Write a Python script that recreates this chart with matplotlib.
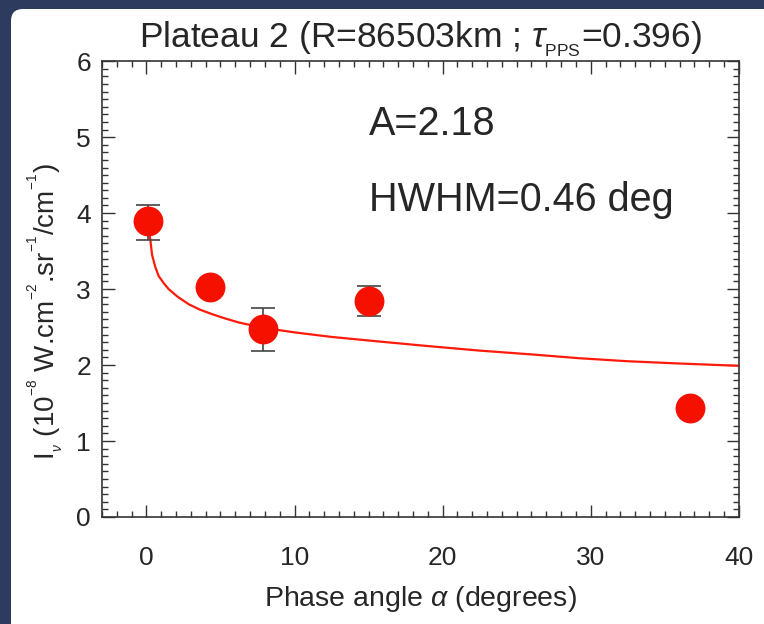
import numpy as np
import matplotlib
matplotlib.use("Agg")
import matplotlib.pyplot as plt
from matplotlib.patches import FancyBboxPatch
from matplotlib.ticker import MultipleLocator

plt.rcParams['font.family'] = ['Liberation Sans', 'DejaVu Sans']
plt.rcParams['mathtext.fontset'] = 'custom'
plt.rcParams['mathtext.rm'] = 'Liberation Sans'
plt.rcParams['mathtext.it'] = 'Liberation Sans:italic'

# measured intensities versus phase angle
phase = [0.1, 4.26, 7.9, 15.0, 36.7]
intensity = [3.89, 3.03, 2.47, 2.84, 1.44]
err_lo = [0.24, 0.0, 0.29, 0.20, 0.0]
err_hi = [0.21, 0.0, 0.28, 0.20, 0.0]
has_err = [True, False, True, True, False]

# fitted phase curve
fit_phase = [0.1, 0.27, 0.38, 0.6, 0.83, 1.2, 1.5, 2.1, 2.86, 3.6, 4.43, 5.2,
             6.24, 7.9, 10.0, 12.5, 15.7, 19.0, 22.5, 26.0, 29.2, 32.5, 36.0, 40.0]
fit_int = [3.86, 3.64, 3.45, 3.29, 3.17, 3.07, 3.00, 2.90, 2.80, 2.73, 2.67, 2.62,
           2.56, 2.49, 2.43, 2.37, 2.31, 2.25, 2.19, 2.14, 2.09, 2.05, 2.02, 1.99]

amp_text = "A=2.18"
hwhm_text = "HWHM=0.46 deg"

text_col = '#262626'
axis_col = '#333333'

fig = plt.figure(figsize=(7.64, 6.24), dpi=100)
fig.patch.set_facecolor('#2d3b5e')
panel = FancyBboxPatch((11, -30), 800, 624 - 9 + 30, boxstyle="round,pad=0,rounding_size=12",
                       transform=None, facecolor='white', edgecolor='none', zorder=0)
fig.add_artist(panel)

ax = fig.add_axes([0.1335, 0.1715, 0.8335, 0.7305])
ax.set_facecolor('white')

ax.plot(fit_phase, fit_int, color='#ff1a0a', lw=1.6, zorder=2)

ex = [p for p, e in zip(phase, has_err) if e]
ey = [v for v, e in zip(intensity, has_err) if e]
elo = [v for v, e in zip(err_lo, has_err) if e]
ehi = [v for v, e in zip(err_hi, has_err) if e]
ax.errorbar(ex, ey, yerr=[elo, ehi], fmt='none', ecolor='#444444', elinewidth=1.2,
            capsize=8.5, capthick=1.2, zorder=3)
ax.plot(phase, intensity, 'o', color='#f51000', ms=21.5, mec='none', zorder=4)

ax.text(15, 5.17, amp_text, fontsize=28.5, color=text_col, va='center', ha='left')
ax.text(15, 4.17, hwhm_text, fontsize=28.5, color=text_col, va='center', ha='left')

ax.set_xlim(-3, 40)
ax.set_ylim(0, 6)
ax.xaxis.set_major_locator(MultipleLocator(10))
ax.xaxis.set_minor_locator(MultipleLocator(1))
ax.yaxis.set_major_locator(MultipleLocator(1))
ax.yaxis.set_minor_locator(MultipleLocator(0.1))
ax.tick_params(which='both', direction='in', top=True, right=True, color=axis_col, width=1.0,
               labelcolor=text_col, labelsize=19)
ax.tick_params(which='major', length=9)
ax.tick_params(which='minor', length=4)
ax.tick_params(axis='x', which='major', pad=21)
ax.tick_params(axis='y', which='major', pad=8)
for s in ax.spines.values():
    s.set_color(axis_col)
    s.set_linewidth(1.2)

ax.set_title(r'Plateau 2 (R=86503km ; $\tau_{_{\rm PPS}}$=0.396)', fontsize=25.5, color=text_col, pad=10)
ax.set_xlabel(r'Phase angle $\alpha$ (degrees)', fontsize=20.5, color=text_col, labelpad=10)
ax.set_ylabel(r'I$_{_\nu}$ (10$^{^{-8}}$ W.cm$^{^{-2}}$.sr$^{^{-1}}$/cm$^{^{-1}}$)', fontsize=20,
              color=text_col)
ax.yaxis.set_label_coords(-0.056, 0.45)

fig.savefig('out.png', dpi=100, facecolor=fig.get_facecolor())
